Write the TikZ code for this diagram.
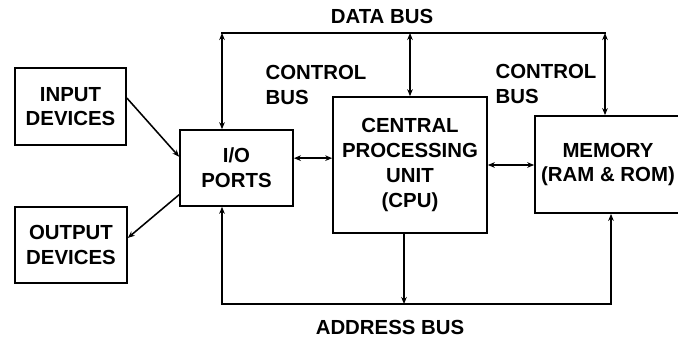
\documentclass[tikz,border=0pt]{standalone}
\usepackage{fontspec}
\setmainfont{Liberation Sans}
\usetikzlibrary{arrows.meta}

\begin{document}
\begin{tikzpicture}[x=0.025cm, y=-0.025cm,
  font=\fontsize{14.5}{17.5}\selectfont\bfseries,
  block/.style={draw, line width=1.1pt, align=center, inner sep=0pt},
  bus/.style={line width=1.1pt},
  tip/.style={-{Stealth[length=5pt,width=4pt]}},
  twotip/.style={{Stealth[length=5pt,width=4pt]}-{Stealth[length=5pt,width=4pt]}}]
  \useasboundingbox (0,0) rectangle (678,341);

  % Blocks
  \node[block, minimum width=2.78cm, minimum height=1.93cm] (in) at (70.5,106.5) {INPUT\\DEVICES};
  \node[block, minimum width=2.8cm, minimum height=1.9cm] (out) at (71,245) {OUTPUT\\DEVICES};
  \node[block, minimum width=2.83cm, minimum height=1.9cm] (io) at (236.5,168) {I/O\\PORTS};
  \node[block, minimum width=3.85cm, minimum height=3.4cm, font=\fontsize{14.5}{18}\selectfont\bfseries] (cpu) at (410,165) {CENTRAL\\PROCESSING\\UNIT\\(CPU)};
  \node[block, minimum width=3.65cm, minimum height=2.43cm] (mem) at (608,164.5) {MEMORY\\(RAM \& ROM)};

  % Labels
  \node (databus) at (382,16) {DATA BUS};
  \node[align=left] (ctrlleft) at (316,85) {CONTROL\\BUS};
  \node[align=left] (ctrlright) at (546,84) {CONTROL\\BUS};
  \node (addrbus) at (390,327) {ADDRESS BUS};

  % Data bus
  \coordinate (d1) at (222,33);
  \coordinate (d2) at (410,33);
  \coordinate (d3) at (605,33);
  \draw[bus, line cap=rect] (d1) -- (d3);
  \draw[bus, twotip] (d1) -- (d1 |- io.north);
  \draw[bus, twotip] (d2) -- (cpu.north);
  \draw[bus, twotip] (d3) -- (d3 |- mem.north);

  % Address bus
  \coordinate (a1) at (222,304);
  \coordinate (a2) at (404,304);
  \coordinate (a3) at (611,304);
  \draw[bus, line cap=rect] (a1) -- (a3);
  \draw[bus, tip] (a1) -- (a1 |- io.south);
  \draw[bus, tip] (a2 |- cpu.south) -- (a2);
  \draw[bus, tip] (a3) -- (a3 |- mem.south);

  % Devices and links
  \draw[bus, tip] ([yshift=6pt]in.east) -- ([yshift=8pt]io.west);
  \draw[bus, tip] ([yshift=-19pt]io.west) -- ([yshift=5pt]out.east);
  \draw[bus, twotip] ([yshift=7pt]io.east) -- ([yshift=7pt]io.east -| cpu.west);
  \draw[bus, twotip] (cpu.east) -- (cpu.east -| mem.west);
\end{tikzpicture}
\end{document}
